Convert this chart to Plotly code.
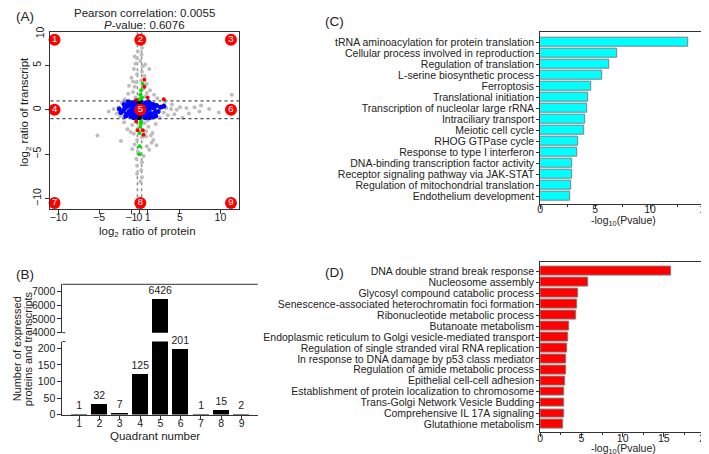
import plotly.graph_objects as go

W, H = 709, 454
def px(x): return x / W
def py(y): return 1 - y / H

FONT = "Arial, Liberation Sans, sans-serif"
TXT = "#222222"

# ---------------- Panel A data ----------------
gray_x = [-0.3, 0.3, -0.2, 0.25, -0.3, 0.1, -0.5, 0.4, -0.7, 1.2, 0.3, -0.3, 0.6, -1.0, 0.2, -0.4, 0.9, -0.6, 0.5, 1.3,
          -0.8, -1.4, 1.8, 0.7, -0.5, 2.2, -1.8, 11.4, -0.2, 0.3,
          -3.8, -3.2, -2.8, -2.6, -2.4, 2.8, 3.0, 3.3, 3.5, 3.9, 4.3, 4.6, 5.0, 5.3, 5.8, 6.1, 6.8, 7.4, 7.6, 8.6, 9.8,
          4.0, 3.1, -2.2, 2.5, -2.0,
          -0.4, 0.6, -0.9, 1.1, -0.2, 0.8, -0.7, 1.4, -5.2, 0.3, -0.3, 1.7, 1.5, -0.6, 0.9, 1.2, -0.2, 0.5, -0.4, 0.3,
          -0.3, 0.2, -0.3, 0.3, 0.1, -1.5, 2.0, -2.3, -1.9, 2.1,
          -0.6, 0.7, -0.8, 0.9, 1.0, -1.1, 0.8, -0.9, 1.6, -1.3]
gray_y = [7.5, 7.0, 6.6, 6.2, 5.8, 5.5, 5.2, 4.9, 4.6, 4.6, 4.3, 4.0, 3.8, 3.6, 3.3, 3.1, 2.9, 2.6, 2.4, 2.2,
          2.0, 1.8, 1.7, 1.5, 1.4, 1.3, 1.2, 1.7, 8.2, 8.0,
          -0.2, 0.1, -0.4, 0.3, -0.7, 0.4, -0.3, 0.2, -0.6, 0.1, -0.5, 0.0, 0.3, -0.9, 0.2, -0.4, 0.3, -0.2, 0.5, 0.1, -0.3,
          0.6, 0.8, 0.8, -0.9, -0.9,
          -1.3, -1.5, -1.7, -1.9, -2.1, -2.4, -2.7, -2.9, -2.9, -3.1, -3.4, -3.4, -3.7, -3.9, -4.1, -4.5, -4.7, -5.2, -5.5, -5.9,
          -6.3, -6.8, -7.2, -7.6, -8.1, -2.2, -1.6, -3.5, -1.4, -4.0,
          6.0, 5.1, 3.2, 1.9, -1.2, -2.5, -3.0, -4.4, -2.6, 2.7]

blue_x = [-2.3, -2.0, -1.8, -1.6, -1.5, -1.3, -1.2, -1.1, -1.0, -0.9, -0.9, -0.8, -0.7, -0.6, -0.6, -0.5, -0.4, -0.3,
          -0.2, -0.2, -0.1, 0.0, 0.1, 0.2, 0.3, 0.4, 0.5, 0.6, 0.7, 0.8, 0.9, 1.0, 1.1, 1.2, 1.3, 1.4, 1.5, 1.6,
          1.8, 1.9, 2.1, 2.3, 2.6, 3.0, -1.4, -0.8, 1.1, 1.7, -1.7, 0.2, -0.4, 0.6, -1.0, 1.2, 2.0, -2.5, -1.9,
          0.9, -0.1, 0.5]
blue_y = [-0.3, -0.1, 0.2, -0.5, 0.4, -0.2, 0.6, -0.7, 0.1, 0.8, -0.4, 0.3, -0.9, 0.5, -0.2, 0.9, -0.6, 0.2,
          -0.9, 0.7, -0.3, 0.5, -0.7, 0.9, -0.1, 0.6, -0.5, 0.2, -0.9, 0.8, -0.3, 0.4, -0.6, 0.1, 0.7, -0.4, 0.3, -0.8,
          0.2, -0.3, 0.5, -0.2, 0.3, 0.4, 0.9, -0.8, 0.9, 0.6, -0.7, -0.5, 0.3, -0.2, -0.2, -0.9, -0.7, 0.1, 0.6,
          0.0, 0.1, 0.3]

black_x = [0.0, 0.05, -0.05, 0.0]
black_y = [0.95, -0.95, 0.8, -0.8]

green_x = [0.4, 0.2, 0.1, 0.3, 0.0, 0.2, 0.1, 0.0, 0.15, 0.0, 0.0]
green_y = [2.9, 2.2, 1.7, 1.4, 1.2, -1.3, -1.9, -2.6, -1.5, -4.1, -5.0]

red_x = [0.6, 0.6, 3.0, 1.0, -0.4, -0.4, 0.4, -0.25, 0.5]
red_y = [3.4, 2.6, 1.2, 1.4, 1.1, -1.3, -2.3, -2.3, -2.8]

quad_x = [-10.5, 0.1, 11.3, -10.5, 0.1, 11.3, -10.5, 0.1, 11.3]
quad_y = [7.9, 7.9, 7.9, 0.0, 0.0, 0.0, -10.5, -10.5, -10.5]
quad_labels = ["1", "2", "3", "4", "5", "6", "7", "8", "9"]

a_xticks = [-10, -5, -1, 0, 1, 5, 10]
a_yticks = [-10, -5, 0, 5]

# ---------------- Panel B data ----------------
quadrants = [1, 2, 3, 4, 5, 6, 7, 8, 9]
counts = [1, 32, 7, 125, 6426, 201, 1, 15, 2]

# ---------------- Panel C data ----------------
c_terms = ["tRNA aminoacylation for protein translation", "Cellular process involved in reproduction",
           "Regulation of translation", "L-serine biosynthetic process", "Ferroptosis",
           "Translational initiation", "Transcription of nucleolar large rRNA", "Intraciliary transport",
           "Meiotic cell cycle", "RHOG GTPase cycle", "Response to type I interferon",
           "DNA-binding transcription factor activity", "Receptor signaling pathway via JAK-STAT",
           "Regulation of mitochondrial translation", "Endothelium development"]
c_vals = [13.5, 7.0, 6.27, 5.6, 4.65, 4.35, 4.3, 4.05, 3.96, 3.5, 3.4, 2.94, 2.9, 2.85, 2.76]

# ---------------- Panel D data ----------------
d_terms = ["DNA double strand break response", "Nucleosome assembly", "Glycosyl compound catabolic process",
           "Senescence-associated heterochromatin foci formation", "Ribonucleotide metabolic process",
           "Butanoate metabolism", "Endoplasmic reticulum to Golgi vesicle-mediated transport",
           "Regulation of single stranded viral RNA replication", "In response to DNA damage by p53 class mediator",
           "Regulation of amide metabolic process", "Epithelial cell-cell adhesion",
           "Establishment of protein localization to chromosome", "Trans-Golgi Network Vesicle Budding",
           "Comprehensive IL 17A signaling", "Glutathione metabolism"]
d_vals = [15.9, 5.84, 4.6, 4.52, 4.32, 3.56, 3.4, 3.24, 3.2, 3.2, 3.08, 2.96, 2.88, 2.88, 2.84]

fig = go.Figure()

# Panel A traces
fig.add_trace(go.Scatter(x=gray_x, y=gray_y, mode="markers", xaxis="x", yaxis="y",
                         marker=dict(color="#bdbdbd", size=4), hoverinfo="skip", showlegend=False))
fig.add_trace(go.Scatter(x=blue_x, y=blue_y, mode="markers", xaxis="x", yaxis="y",
                         marker=dict(color="#0000ff", size=5), hoverinfo="skip", showlegend=False))
fig.add_trace(go.Scatter(x=black_x, y=black_y, mode="markers", xaxis="x", yaxis="y",
                         marker=dict(color="#000000", size=4), hoverinfo="skip", showlegend=False))
fig.add_trace(go.Scatter(x=green_x, y=green_y, mode="markers", xaxis="x", yaxis="y",
                         marker=dict(color="#00e000", size=4), hoverinfo="skip", showlegend=False))
fig.add_trace(go.Scatter(x=red_x, y=red_y, mode="markers", xaxis="x", yaxis="y",
                         marker=dict(color="#ff0000", size=4), hoverinfo="skip", showlegend=False))
fig.add_trace(go.Scatter(x=quad_x, y=quad_y, mode="markers+text", xaxis="x", yaxis="y",
                         text=quad_labels, textposition="middle center",
                         textfont=dict(color="white", size=9.5, family=FONT),
                         marker=dict(color="#ff0000", size=12), hoverinfo="skip", showlegend=False,
                         cliponaxis=False))

# Panel B traces
low_text = [str(v) if v < 4000 else "" for v in counts]
high_text = [str(v) if v >= 4000 else "" for v in counts]
fig.add_trace(go.Bar(x=quadrants, y=counts, xaxis="x2", yaxis="y2", width=0.8,
                     marker=dict(color="black", line=dict(width=0)), text=low_text,
                     textposition="outside", cliponaxis=False, constraintext="none",
                     textfont=dict(size=10.5, color=TXT, family=FONT), showlegend=False))
fig.add_trace(go.Bar(x=quadrants, y=counts, xaxis="x2", yaxis="y3", width=0.8,
                     marker=dict(color="black", line=dict(width=0)), text=high_text,
                     textposition="outside", cliponaxis=False, constraintext="none",
                     textfont=dict(size=10.5, color=TXT, family=FONT), showlegend=False))

# Panel C
fig.add_trace(go.Bar(x=c_vals, y=c_terms, orientation="h", xaxis="x4", yaxis="y4", width=0.8,
                     marker=dict(color="#00ffff", line=dict(color="#7f7f7f", width=1)), showlegend=False))
# Panel D
fig.add_trace(go.Bar(x=d_vals, y=d_terms, orientation="h", xaxis="x5", yaxis="y5", width=0.8,
                     marker=dict(color="#ff0000", line=dict(color="#7f7f7f", width=1)), showlegend=False))

tickfont = dict(size=10.5, color=TXT, family=FONT)
axline = dict(showline=True, linecolor="#333333", linewidth=1, showgrid=False, zeroline=False,
              ticks="outside", ticklen=4, tickcolor="#333333", tickfont=tickfont)

layout = dict(
    width=W, height=H, autosize=False, margin=dict(l=0, r=0, t=0, b=0),
    paper_bgcolor="white", plot_bgcolor="white", bargap=0,
    font=dict(family=FONT, color=TXT),
    xaxis=dict(domain=[px(40), px(231)], range=[-11, 12.3], anchor="y", tickvals=a_xticks,
               tickangle=0, mirror=True, ticklabelstandoff=-6, **axline),
    yaxis=dict(domain=[py(204), py(24)], range=[-11.2, 8.8], anchor="x", tickvals=a_yticks,
               tickangle=-90, mirror=True, **axline),
    xaxis2=dict(domain=[px(52), px(250)], range=[0.17, 9.8], anchor="y2", tickvals=quadrants,
                tickangle=0, ticklabelstandoff=-5, **axline),
    yaxis2=dict(domain=[py(412), py(338)], range=[0, 221], anchor="x2", tickvals=[0, 50, 100, 150, 200], **axline),
    yaxis3=dict(domain=[py(329), py(280)], range=[4000, 7500], anchor="x2",
                tickvals=[4000, 5000, 6000, 7000], **axline),
    xaxis4=dict(domain=[px(536), px(703)], range=[0, 15], anchor="y4", dtick=5, mirror=True,
                tickangle=0, ticklabelstandoff=-9,
                minor=dict(ticks="outside", ticklen=2, dtick=2.5, tickcolor="#333333"), **axline),
    yaxis4=dict(domain=[py(199), py(24)], range=[14.72, -0.99], anchor="x4", type="category",
                tickmode="array", tickvals=c_terms, ticktext=c_terms,
                mirror=True, **{**axline, "ticklen": 3}),
    xaxis5=dict(domain=[px(536), px(703)], range=[0, 20], anchor="y5", dtick=5, mirror=True,
                tickangle=0, ticklabelstandoff=-8,
                minor=dict(ticks="outside", ticklen=2, dtick=2.5, tickcolor="#333333"), **axline),
    yaxis5=dict(domain=[py(430), py(257)], range=[14.72, -0.9], anchor="x5", type="category",
                tickmode="array", tickvals=d_terms, ticktext=d_terms,
                mirror=True, **{**axline, "ticklen": 3}),
)

shapes = [
    dict(type="line", xref="x domain", yref="y", x0=0, x1=1, y0=1, y1=1,
         line=dict(color="#222222", width=1, dash="dot")),
    dict(type="line", xref="x domain", yref="y", x0=0, x1=1, y0=-1, y1=-1,
         line=dict(color="#222222", width=1, dash="dot")),
    dict(type="line", xref="x", yref="y domain", x0=-0.26, x1=-0.26, y0=0, y1=1,
         line=dict(color="#8c8c8c", width=1.5, dash="dot"), layer="below"),
    dict(type="line", xref="x", yref="y domain", x0=0.26, x1=0.26, y0=0, y1=1,
         line=dict(color="#8c8c8c", width=1.5, dash="dot"), layer="below"),
    dict(type="line", xref="paper", yref="paper", x0=px(52), x1=px(250), y0=py(280), y1=py(280),
         line=dict(color="#333333", width=1)),
    dict(type="line", xref="paper", yref="paper", x0=px(52), x1=px(55), y0=py(329), y1=py(329),
         line=dict(color="#333333", width=1)),
    dict(type="line", xref="paper", yref="paper", x0=px(52), x1=px(55), y0=py(338), y1=py(338),
         line=dict(color="#333333", width=1)),
]
layout["shapes"] = shapes

ann = []
def A(text, x, y, size=11, angle=0, xanchor="center", yanchor="middle", **kw):
    ann.append(dict(text=text, x=px(x), y=py(y), xref="paper", yref="paper", showarrow=False,
                    font=dict(size=size, color=TXT, family=FONT), textangle=angle,
                    xanchor=xanchor, yanchor=yanchor, **kw))

A("(A)", 3, 9, size=13.5, xanchor="left")
A("(B)", 3, 270, size=13.5, xanchor="left")
A("(C)", 316, 14, size=13.5, xanchor="left")
A("(D)", 316, 268, size=13.5, xanchor="left")
A("Pearson correlation: 0.0055", 135, 5, size=11.5)
A("<i>P</i>-value: 0.6076", 135, 17, size=11.5)
A("log<sub>2</sub> ratio of transcript", 14, 105, size=11.5, angle=-90)
A("log<sub>2</sub> ratio of protein", 138, 227, size=11.5)
A("10", 29, 25, size=10.5, angle=-90)
A("Number of expressed", 7, 345, size=11, angle=-90)
A("proteins and transcripts", 18, 345, size=11, angle=-90)
A("Quadrant number", 146, 434, size=11.5)
A("-log<sub>10</sub>(Pvalue)", 620, 216, size=10.5)
A("-log<sub>10</sub>(Pvalue)", 620, 447, size=10.5)
layout["annotations"] = ann

fig.update_layout(**layout)
fig.write_html("out.html")
